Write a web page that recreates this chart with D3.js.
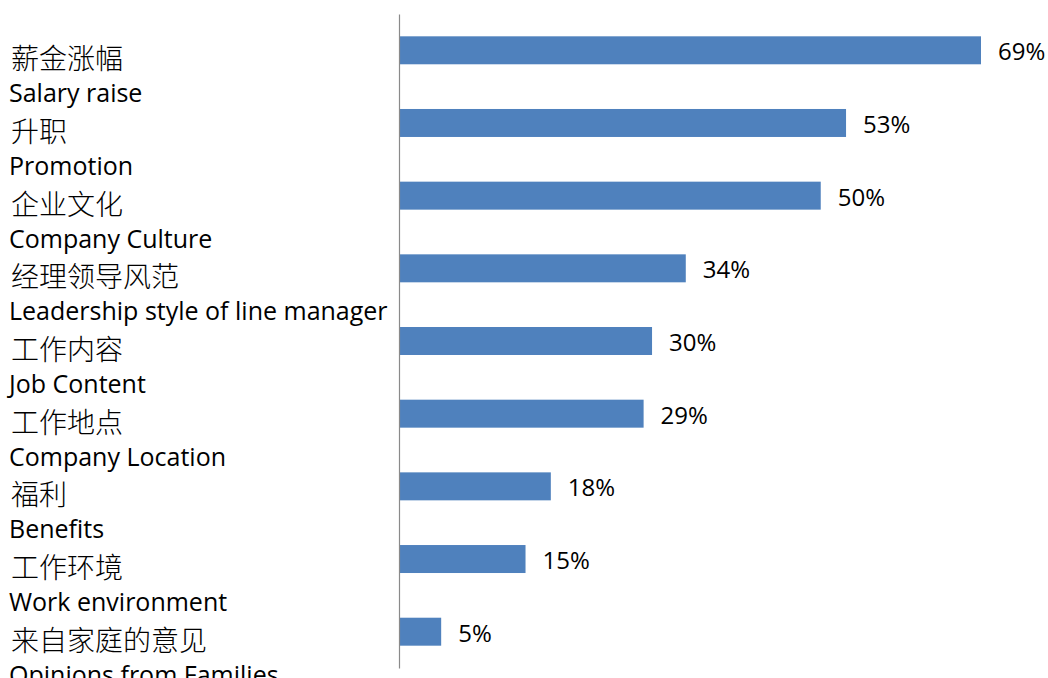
<!DOCTYPE html>
<html>
<head>
<meta charset="utf-8">
<script src="https://cdn.jsdelivr.net/npm/d3@7"></script>
<style>
  html, body { margin: 0; padding: 0; background: #fff; }
  svg { display: block; }
</style>
</head>
<body>
<svg id="chart" width="1048" height="678"></svg>
<script>
// Reasons for changing jobs, share of respondents (%)
const categoriesZh = ["薪金涨幅", "升职", "企业文化", "经理领导风范", "工作内容", "工作地点", "福利", "工作环境", "来自家庭的意见"];
const categoriesEn = ["Salary raise", "Promotion", "Company Culture", "Leadership style of line manager", "Job Content", "Company Location", "Benefits", "Work environment", "Opinions from Families"];
const values = [69, 53, 50, 34, 30, 29, 18, 15, 5];

const svg = d3.select("#chart");
const latin = "'Open Sans', sans-serif";
const cjk = "'Noto Sans CJK SC', sans-serif";

const y = d3.scaleBand()
  .domain(d3.range(values.length))
  .range([14, 668])
  .paddingInner(0.615)
  .paddingOuter(0.307);

const x = d3.scaleLinear().domain([0, 69]).range([399, 981]);

// bars
svg.append("g").selectAll("rect")
  .data(values)
  .join("rect")
  .attr("x", x(0))
  .attr("y", (d, i) => y(i))
  .attr("width", d => x(d) - x(0))
  .attr("height", y.bandwidth())
  .attr("fill", "#4F81BD");

// category axis line
const axis = d3.axisLeft(y).tickSize(0).tickFormat("");
svg.append("g")
  .attr("transform", `translate(${x(0)},0)`)
  .call(axis)
  .call(g => g.select(".domain").attr("stroke", "#8a8a8a").attr("stroke-width", 1.2));

// value labels
svg.append("g").selectAll("text")
  .data(values)
  .join("text")
  .attr("x", d => x(d) + 17)
  .attr("y", (d, i) => y(i) + y.bandwidth() / 2 + 10)
  .attr("font-family", latin)
  .attr("font-size", 24)
  .attr("fill", "#000")
  .text(d => d + "%");

// two-line category labels (Chinese above English)
const labels = svg.append("g").selectAll("g")
  .data(values.map((d, i) => i))
  .join("g");

labels.append("text")
  .attr("x", 11)
  .attr("y", i => y(i) + y.bandwidth() / 2 + 19)
  .attr("font-family", cjk)
  .attr("font-size", 28)
  .attr("font-weight", 300)
  .attr("fill", "#000")
  .text(i => categoriesZh[i]);

labels.append("text")
  .attr("x", 9)
  .attr("y", i => y(i) + y.bandwidth() / 2 + 52)
  .attr("font-family", latin)
  .attr("font-size", 25)
  .attr("fill", "#000")
  .text(i => categoriesEn[i]);
</script>
</body>
</html>
